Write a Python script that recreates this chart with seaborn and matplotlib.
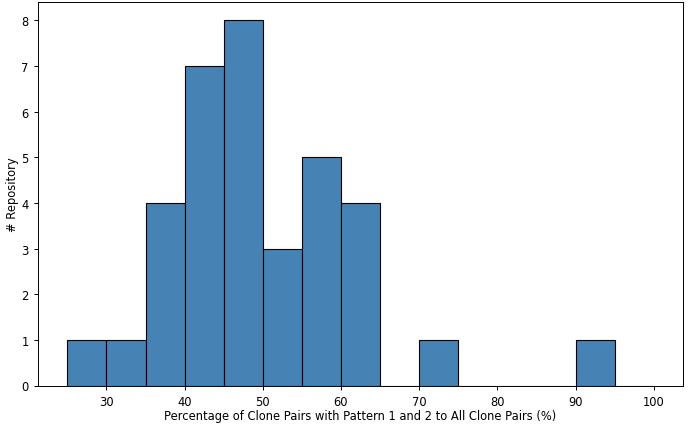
import matplotlib
matplotlib.use("Agg")
import matplotlib.pyplot as plt
import seaborn as sns
import numpy as np
import pandas as pd

bin_edges = [25, 30, 35, 40, 45, 50, 55, 60, 65, 70, 75, 80, 85, 90, 95, 100]
counts = [1, 1, 4, 7, 8, 3, 5, 4, 0, 1, 0, 0, 0, 1, 0]
centers = [(a + b) / 2 for a, b in zip(bin_edges[:-1], bin_edges[1:])]

df = pd.DataFrame({"pct": centers, "n": counts})

plt.rcParams["font.size"] = 8.3
plt.rcParams["axes.linewidth"] = 0.7
plt.rcParams["xtick.major.width"] = 0.7
plt.rcParams["ytick.major.width"] = 0.7
plt.rcParams["xtick.major.size"] = 3.2
plt.rcParams["ytick.major.size"] = 3.2

fig = plt.figure(figsize=(6.92, 4.27), dpi=100)
ax = fig.add_axes([38 / 692, 1 - 386.5 / 427, (683 - 38) / 692, (386.5 - 3) / 427])
sns.histplot(data=df, x="pct", weights="n", bins=bin_edges, color="steelblue",
             edgecolor="black", alpha=1.0, linewidth=0.8, ax=ax)
ax.set_xlabel("Percentage of Clone Pairs with Pattern 1 and 2 to All Clone Pairs (%)", labelpad=1)
ax.set_ylabel("# Repository", labelpad=1.5)
fig.savefig("out.png", dpi=100)
